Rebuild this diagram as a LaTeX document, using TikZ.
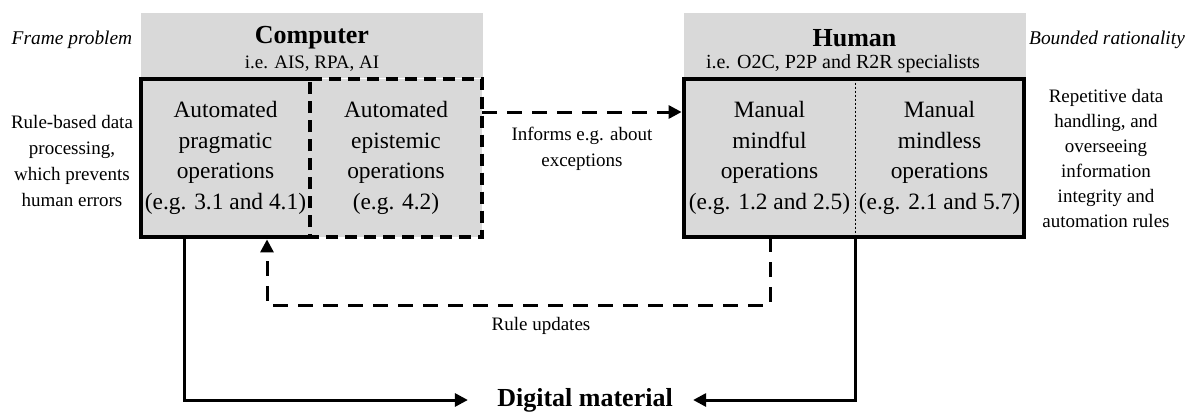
\documentclass[tikz,border=0pt]{standalone}
\usepackage{fontspec}
\setmainfont{Liberation Serif}
\usetikzlibrary{arrows.meta}
\definecolor{boxgray}{HTML}{D9D9D9}
\definecolor{inkblack}{HTML}{000000}

\begin{document}
\begin{tikzpicture}[x=0.5pt, y=-0.5pt, >={Triangle[length=6.5pt,width=6.5pt]},
  headbox/.style={fill=boxgray, minimum width=171pt, minimum height=32.5pt, inner sep=0pt},
  title/.style={inner sep=0pt, font=\fontsize{13}{15}\selectfont\bfseries},
  subtitle/.style={inner sep=0pt, font=\fontsize{9.5}{12}\selectfont},
  cell/.style={fill=boxgray, minimum height=79pt, inner sep=0pt, align=center,
    font=\fontsize{11.7}{15.2}\selectfont},
  sidenote/.style={inner sep=0pt, align=center, font=\fontsize{9.5}{13}\selectfont},
  slantnote/.style={inner sep=0pt, font=\fontsize{9.7}{12}\selectfont\itshape},
  boxline/.style={inkblack, line width=2pt, line join=miter},
  boxdash/.style={dash pattern=on 6pt off 3.5pt},
  dotline/.style={inkblack, line width=0.5pt, dash pattern=on 1pt off 1pt},
  dasharrow/.style={inkblack, line width=1.5pt, dash pattern=on 7.5pt off 5pt},
  solidarrow/.style={inkblack, line width=1.5pt}]
  \useasboundingbox (0,0) rectangle (1190,413);

  \node[headbox] (comphead) at (312,45.5) {};
  \node[headbox] (humhead) at (854.5,45.5) {};
  \node[title] (comptitle) at (312,38) {Computer};
  \node[subtitle] (compsub) at (312,64) {i.e. AIS, RPA, AI};
  \node[title] (humtitle) at (854.5,38) {Human};
  \node[subtitle, font=\fontsize{10}{12}\selectfont] (humsub) at (843,64)
    {i.e. O2C, P2P and R2R specialists};

  \node[cell, minimum width=84.5pt] (pragm) at (225.5,158)
    {Automated\\pragmatic\\operations\\(e.g. 3.1 and 4.1)};
  \node[cell, minimum width=86pt] (epist) at (396,158)
    {Automated\\epistemic\\operations\\(e.g. 4.2)};
  \node[cell, minimum width=85.5pt] (mindful) at (769.5,158)
    {Manual\\mindful\\operations\\(e.g. 1.2 and 2.5)};
  \node[cell, minimum width=84.5pt] (mindless) at (939.5,158)
    {Manual\\mindless\\operations\\(e.g. 2.1 and 5.7)};

  \draw[boxline] (pragm.north east) -- (pragm.north west) -- (pragm.south west) -- (pragm.south east);
  \draw[boxline, boxdash] (pragm.north east) -- (epist.north east) -- (epist.south east)
    -- (pragm.south east) -- cycle;
  \draw[boxline] (mindful.north west) rectangle (mindless.south east);
  \draw[dotline] (mindful.north east) -- (mindful.south east);

  \node[slantnote] (frame) at (72,40) {Frame problem};
  \node[slantnote] (bounded) at (1107,40) {Bounded rationality};
  \node[sidenote] (rulebased) at (72,161)
    {Rule-based data\\processing,\\which prevents\\human errors};
  \node[sidenote, font=\fontsize{9.5}{12.5}\selectfont] (repetitive) at (1106,158)
    {Repetitive data\\handling, and\\overseeing\\information\\integrity and\\automation rules};

  \coordinate (infy) at (0,112);
  \draw[dasharrow, ->, shorten >=1pt] (epist.east |- infy) -- (mindful.west |- infy);
  \node[sidenote] (informs) at (582,149) {Informs e.g. about\\exceptions};

  \coordinate (rulel) at (267,305);
  \coordinate (ruler) at (770,305);
  \draw[dasharrow, ->, shorten >=1pt] (mindful.south -| ruler) -- (ruler) -- (rulel)
    -- (pragm.south -| rulel);
  \node[sidenote] (updates) at (541,326) {Rule updates};

  \node[title] (digital) at (585,400) {Digital material};
  \coordinate (outl) at (184,400);
  \draw[solidarrow, ->, shorten >=14.5pt] (pragm.south -| outl) |- (digital.west);
  \draw[solidarrow, ->, shorten >=10pt] (mindful.south east) |- (digital.east);
\end{tikzpicture}
\end{document}
